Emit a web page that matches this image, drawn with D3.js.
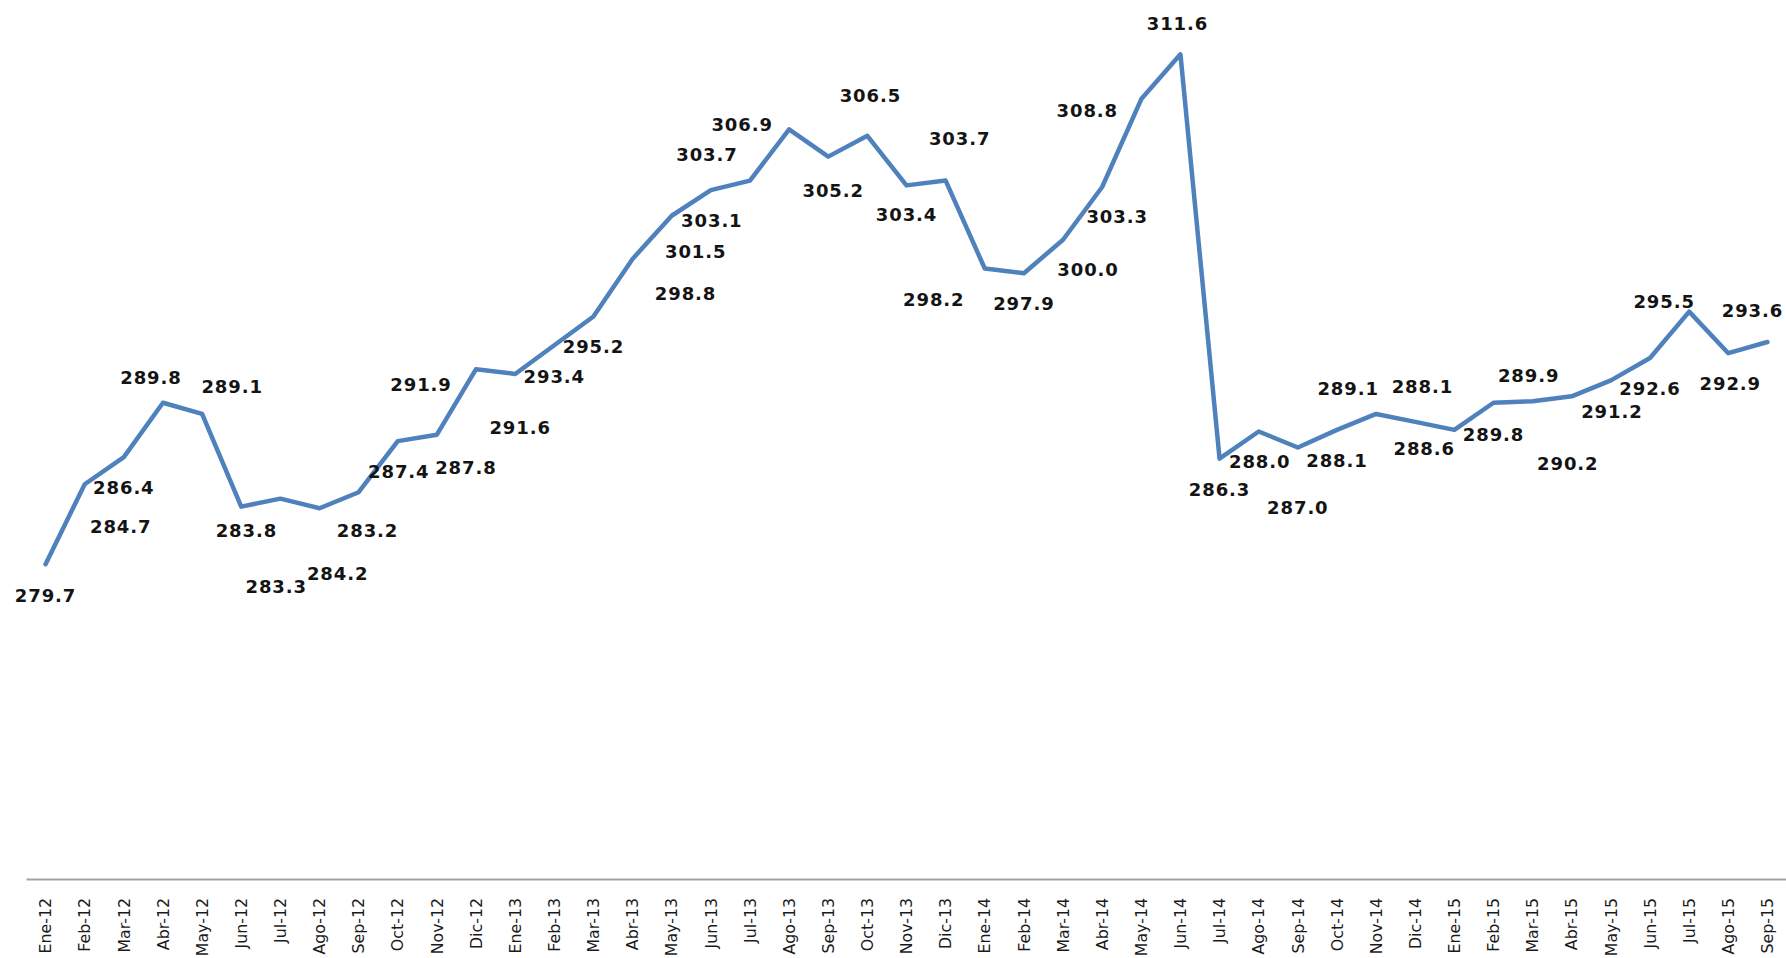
<!DOCTYPE html>
<html>
<head>
<meta charset="utf-8">
<script src="https://cdn.jsdelivr.net/npm/d3@7"></script>
<style>
    body { margin: 0; background: #fff; }
    .linea { fill: none; stroke: #4f81bd; stroke-width: 4.5px; stroke-linejoin: round; stroke-linecap: round; }
    .etiqueta { font-family: "DejaVu Sans", Verdana, sans-serif; font-weight: bold; font-size: 18px; letter-spacing: 0.9px; fill: #141414; }
    .asseX path { stroke: #a3a3a3; stroke-width: 2px; }
    .asseX text { font-family: "DejaVu Sans", Tahoma, sans-serif; font-size: 15.8px; fill: #1a1a1a; }
</style>
</head>
<body>
<script>

const grafico = {
    larghezza: 1786,
    altezza: 958
};

// meses (eje x)
const meses = [
    "Ene-12", "Feb-12", "Mar-12", "Abr-12", "May-12", "Jun-12", "Jul-12", "Ago-12", "Sep-12", "Oct-12", "Nov-12", "Dic-12",
    "Ene-13", "Feb-13", "Mar-13", "Abr-13", "May-13", "Jun-13", "Jul-13", "Ago-13", "Sep-13", "Oct-13", "Nov-13", "Dic-13",
    "Ene-14", "Feb-14", "Mar-14", "Abr-14", "May-14", "Jun-14", "Jul-14", "Ago-14", "Sep-14", "Oct-14", "Nov-14", "Dic-14",
    "Ene-15", "Feb-15", "Mar-15", "Abr-15", "May-15", "Jun-15", "Jul-15", "Ago-15", "Sep-15"
];

// valores de la serie
const valores = [
    279.7, 284.7, 286.4, 289.8, 289.1, 283.3, 283.8, 283.2, 284.2, 287.4, 287.8, 291.9,
    291.6, 293.4, 295.2, 298.8, 301.5, 303.1, 303.7, 306.9, 305.2, 306.5, 303.4, 303.7,
    298.2, 297.9, 300.0, 303.3, 308.8, 311.6, 286.3, 288.0, 287.0, 288.1, 289.1, 288.6,
    288.1, 289.8, 289.9, 290.2, 291.2, 292.6, 295.5, 292.9, 293.6
];

// limites del eje y (oculto)
const dominioY = [260, 315];

// desplazamiento de cada etiqueta respecto a su punto (px), como en el original
const desplazEtiquetas = [
    [0, 33], [36, 44], [0, 32], [-12, -23], [30, -26], [35, 82], [-34, 34], [48, 24], [-21, 83], [1, 32], [29, 35], [-55, 17],
    [5, 55], [0, 33], [0, 32], [53, 36], [24, 38], [1, 32], [-43, -24], [-47, -3], [5, 36], [3, -39], [0, 31], [14, -40],
    [-51, 33], [0, 32], [25, 32], [15, 31], [-54, 13], [-3, -29], [0, 33], [1, 32], [0, 62], [0, 32], [-28, -24], [9, 28],
    [-32, -42], [0, 34], [-4, -24], [-4, 69], [1, 33], [0, 32], [-25, -8], [2, 32], [-15, -30]
];

let dati = meses.map(function (m, i) {
    return { MES: m, VALOR: valores[i] };
});

// scala mesi
let scalaMesi = d3.scaleBand()
    .domain(meses)
    .range([26, grafico.larghezza + 1])
    .padding(0);

let centro = function (m) { return scalaMesi(m) + scalaMesi.bandwidth() / 2 };

// scala valori
let scalaValori = d3.scaleLinear()
    .domain(dominioY)
    .range([879, 0]);

let linea = d3.line()
    .x(function (d) { return centro(d.MES) })
    .y(function (d) { return scalaValori(d.VALOR) });

let svg = d3.select("body")
    .append("svg")
    .attr("width", grafico.larghezza)
    .attr("height", grafico.altezza);

svg.append("rect")
    .attr("width", grafico.larghezza)
    .attr("height", grafico.altezza)
    .attr("fill", "#fff");

// asse x
let asseX = d3.axisBottom(scalaMesi)
    .tickSize(0)
    .tickSizeOuter(0);

svg.append("g")
    .attr("class", "asseX")
    .attr("transform", `translate(0, ${scalaValori(dominioY[0])})`)
    .call(asseX)
    .selectAll("text")
    .attr("transform", "rotate(-90)")
    .attr("text-anchor", "end")
    .attr("x", -19)
    .attr("y", 0)
    .attr("dy", "0.36em");

// linea
svg.append("path")
    .datum(dati)
    .attr("class", "linea")
    .attr("d", linea);

// etiquetas de datos
svg.append("g")
    .selectAll("text")
    .data(dati)
    .enter()
    .append("text")
    .attr("class", "etiqueta")
    .attr("text-anchor", "middle")
    .attr("x", function (d, i) { return centro(d.MES) + desplazEtiquetas[i][0] })
    .attr("y", function (d, i) { return scalaValori(d.VALOR) + desplazEtiquetas[i][1] })
    .attr("dy", "0.26em")
    .text(function (d) { return d.VALOR.toFixed(1) });

</script>
</body>
</html>
